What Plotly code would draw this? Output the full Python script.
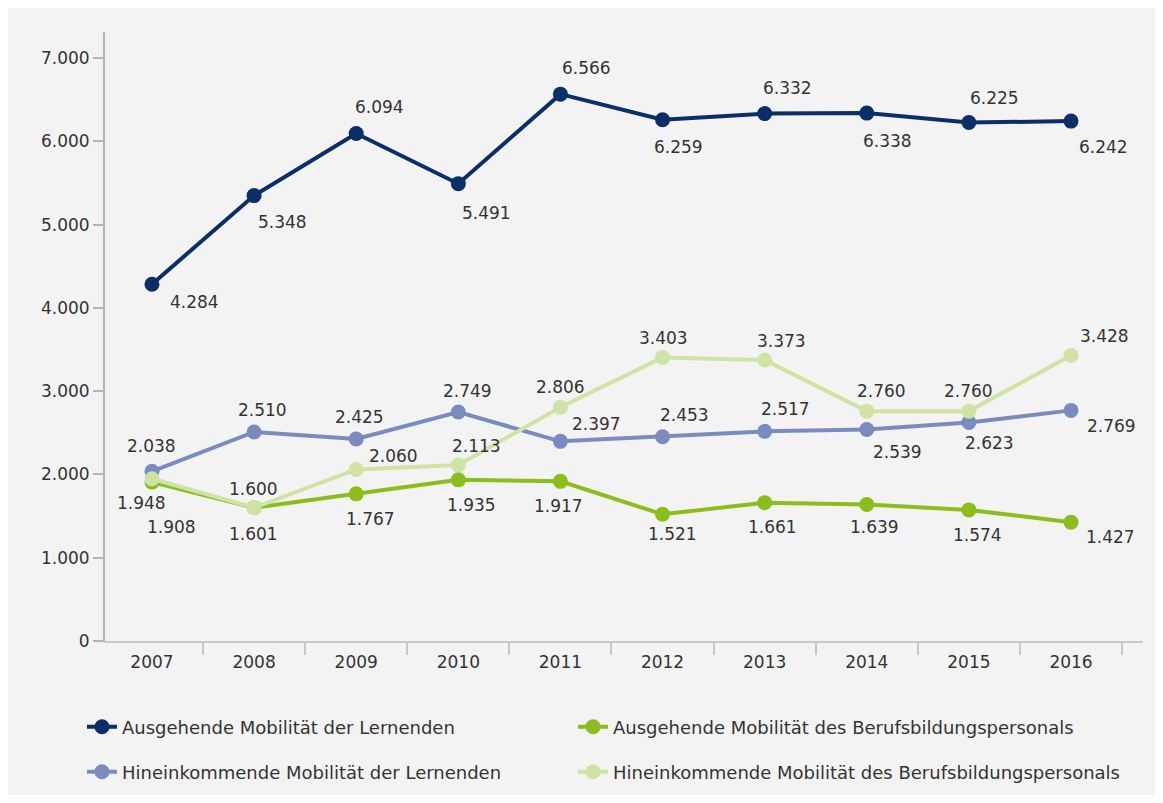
import plotly.graph_objects as go

years = ["2007", "2008", "2009", "2010", "2011", "2012", "2013", "2014", "2015", "2016"]

aus_lernende = [4284, 5348, 6094, 5491, 6566, 6259, 6332, 6338, 6225, 6242]
hinein_lernende = [2038, 2510, 2425, 2749, 2397, 2453, 2517, 2539, 2623, 2769]
aus_personal = [1908, 1601, 1767, 1935, 1917, 1521, 1661, 1639, 1574, 1427]
hinein_personal = [1948, 1600, 2060, 2113, 2806, 3403, 3373, 2760, 2760, 3428]

names = [
    "Ausgehende Mobilität der Lernenden",
    "Ausgehende Mobilität des Berufsbildungspersonals",
    "Hineinkommende Mobilität der Lernenden",
    "Hineinkommende Mobilität des Berufsbildungspersonals",
]

# label offsets (px): (dx, dy) relative to the point, dy positive = downward
off_aus_l = [(43, 18), (28, 26), (23, -26), (28, 29), (26, -26), (16, 27), (23, -26), (21, 28), (26, -25), (32, 26)]
off_hin_l = [(0, -25), (8, -22), (3, -22), (9, -21), (36, -17), (22, -22), (21, -22), (31, 22), (21, 20), (40, 16)]
off_aus_p = [(20, 45), (-1, 26), (14, 25), (13, 25), (-2, 25), (10, 20), (8, 24), (8, 23), (9, 25), (39, 15)]
off_hin_p = [(-10, 24), (-1, -19), (37, -13), (18, -19), (0, -20), (1, -20), (17, -19), (15, -20), (0, -20), (33, -19)]

colors = ["#0b2d68", "#8cbd1c", "#7b8bbd", "#cfe3a4"]
series = [aus_lernende, aus_personal, hinein_lernende, hinein_personal]
offsets = [off_aus_l, off_aus_p, off_hin_l, off_hin_p]
legend_ids = ["legend", "legend2", "legend3", "legend4"]
legend_pos = [(0.0645, 0.0864), (0.4926, 0.0864), (0.0645, 0.0292), (0.4926, 0.0292)]

num_font = "DejaVu Sans, sans-serif"
txt_font = "DejaVu Sans, sans-serif"

fig = go.Figure()
for i in range(4):
    fig.add_trace(go.Scatter(
        x=years, y=series[i], name=names[i], mode="lines+markers",
        line=dict(color=colors[i], width=4),
        marker=dict(color=colors[i], size=15),
        legend=legend_ids[i], showlegend=True,
    ))


def fmt(v):
    return f"{v:,}".replace(",", ".")


for i in range(4):
    for idx, (v, (dx, dy)) in enumerate(zip(series[i], offsets[i])):
        fig.add_annotation(
            x=idx, y=v, xref="x", yref="y", text=fmt(v), showarrow=False,
            xanchor="center", yanchor="middle",
            xshift=dx, yshift=-dy,
            font=dict(family=num_font, size=17, color="#333333"),
        )

legend_layout = {}
for lid, (lx, ly) in zip(legend_ids, legend_pos):
    legend_layout[lid] = dict(
        orientation="h", xref="container", yref="container",
        x=lx, xanchor="left", y=ly, yanchor="middle",
        bgcolor="rgba(0,0,0,0)",
        font=dict(family=txt_font, size=18, color="#333333"),
    )

fig.update_layout(
    width=1147, height=787,
    showlegend=True,
    margin=dict(l=97, r=12, t=24, b=154, autoexpand=False),
    paper_bgcolor="#f3f3f3", plot_bgcolor="#f3f3f3",
    font=dict(family=num_font, size=17, color="#333333"),
    xaxis=dict(
        type="category", range=[-0.46, 9.705],
        showgrid=False, zeroline=False,
        showline=True, linecolor="#c8c8c8", linewidth=2,
        ticks="outside", tickson="boundaries", ticklen=12, tickcolor="#c8c8c8", tickwidth=2,
        ticklabelstandoff=5,
        tickfont=dict(family=num_font, size=17, color="#333333"),
    ),
    yaxis=dict(
        range=[0, 7312], tickvals=[0, 1000, 2000, 3000, 4000, 5000, 6000, 7000],
        ticktext=["0", "1.000", "2.000", "3.000", "4.000", "5.000", "6.000", "7.000"],
        showgrid=False, zeroline=False,
        showline=True, linecolor="#b4b4b4", linewidth=2,
        ticks="outside", ticklen=10, tickcolor="#b4b4b4", tickwidth=2,
        tickfont=dict(family=num_font, size=17, color="#333333"),
    ),
    **legend_layout,
)

fig.write_html("out.html")
